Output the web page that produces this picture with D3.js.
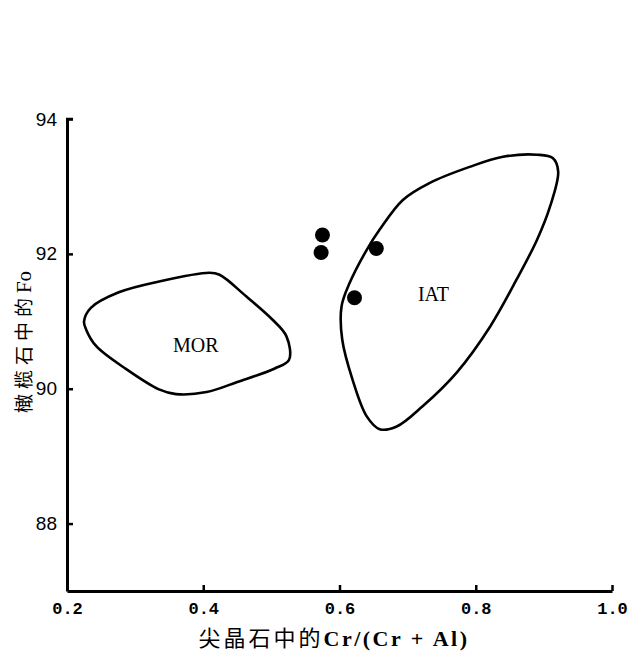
<!DOCTYPE html>
<html>
<meta charset="utf-8">
<head>
  <script src="https://d3js.org/d3.v7.min.js"></script>
  <style>
    body { margin: 0; background: #fff; }
    .axis path, .axis line { stroke: #000; }
  </style>
</head>
<body>
<div id="chart"></div>
<script>
  // x ticks, y ticks
  var xTicks = [0.2, 0.4, 0.6, 0.8, 1.0];
  var yTicks = [88, 90, 92, 94];

  // sample points: spinel Cr/(Cr+Al), olivine Fo
  var samples = [
    {x: 0.575, y: 92.28},
    {x: 0.573, y: 92.02},
    {x: 0.654, y: 92.08},
    {x: 0.622, y: 91.35}
  ];

  // MOR field outline
  var morField = [
    [0.225, 91.00], [0.235, 91.20], [0.276, 91.43], [0.335, 91.59],
    [0.409, 91.72], [0.424, 91.69], [0.463, 91.37], [0.501, 91.03],
    [0.522, 90.78], [0.526, 90.43], [0.505, 90.30], [0.450, 90.10],
    [0.405, 89.95], [0.360, 89.92], [0.335, 89.99], [0.287, 90.29],
    [0.243, 90.63], [0.228, 90.88]
  ];

  // IAT field outline
  var iatField = [
    [0.913, 93.42], [0.921, 93.22], [0.909, 92.70], [0.890, 92.21],
    [0.860, 91.62], [0.821, 90.92], [0.772, 90.24], [0.722, 89.74],
    [0.684, 89.44], [0.659, 89.40], [0.640, 89.59], [0.619, 90.14],
    [0.604, 90.73], [0.603, 91.22], [0.615, 91.57], [0.640, 92.06],
    [0.659, 92.36], [0.693, 92.80], [0.732, 93.05], [0.791, 93.29],
    [0.840, 93.44], [0.890, 93.47]
  ];

  var fieldLabels = [
    {name: "MOR", x: 0.389, y: 90.55},
    {name: "IAT", x: 0.738, y: 91.3}
  ];

  var svg = d3.select("#chart").append("svg")
      .attr("width", 632)
      .attr("height", 651);

  var x = d3.scaleLinear().domain([0.2, 1.0]).range([67, 612]);
  var y = d3.scaleLinear().domain([87, 94]).range([591, 119]);

  var line = d3.line()
      .x(function(d) { return x(d[0]); })
      .y(function(d) { return y(d[1]); })
      .curve(d3.curveCatmullRomClosed.alpha(0.5));

  svg.append("path")
      .attr("d", line(morField))
      .attr("fill", "none")
      .attr("stroke", "#000")
      .attr("stroke-width", 2.6);

  svg.append("path")
      .attr("d", line(iatField))
      .attr("fill", "none")
      .attr("stroke", "#000")
      .attr("stroke-width", 2.6);

  svg.selectAll(".field-label")
      .data(fieldLabels)
      .enter().append("text")
      .attr("class", "field-label")
      .attr("x", function(d) { return x(d.x); })
      .attr("y", function(d) { return y(d.y); })
      .attr("text-anchor", "middle")
      .attr("font-family", "Liberation Serif")
      .attr("font-size", 20)
      .text(function(d) { return d.name; });

  svg.selectAll(".dot")
      .data(samples)
      .enter().append("circle")
      .attr("class", "dot")
      .attr("cx", function(d) { return x(d.x); })
      .attr("cy", function(d) { return y(d.y); })
      .attr("r", 7.5)
      .attr("fill", "#000");

  var yAxis = svg.append("g")
      .attr("class", "axis")
      .attr("transform", "translate(67,0)")
      .call(d3.axisLeft(y).tickValues(yTicks).tickSizeInner(-6).tickSizeOuter(0).tickPadding(10)
        .tickFormat(d3.format("d")));

  yAxis.select(".domain").attr("stroke-width", 3);
  yAxis.selectAll(".tick line").attr("stroke-width", 2.5);
  yAxis.selectAll(".tick text")
      .attr("font-family", "Liberation Sans")
      .attr("font-size", 19)
      .attr("fill", "#000");

  var xAxis = svg.append("g")
      .attr("class", "axis")
      .attr("transform", "translate(0,591)")
      .call(d3.axisBottom(x).tickValues(xTicks).tickSizeInner(-6).tickSizeOuter(0).tickPadding(11)
        .tickFormat(d3.format(".1f")));

  xAxis.select(".domain").attr("stroke-width", 3);
  xAxis.selectAll(".tick line").attr("stroke-width", 2.5);
  xAxis.selectAll(".tick text")
      .attr("font-family", "Liberation Mono")
      .attr("font-weight", "bold")
      .attr("font-size", 17)
      .attr("fill", "#000");

  // end cap at top of y axis
  svg.append("line")
      .attr("x1", 66).attr("x2", 73)
      .attr("y1", y(94)).attr("y2", y(94))
      .attr("stroke", "#000").attr("stroke-width", 2.5);

  svg.append("text")
      .attr("x", 334)
      .attr("y", 646)
      .attr("text-anchor", "middle")
      .attr("font-size", 22)
      .html('<tspan font-family="Noto Sans CJK SC" letter-spacing="3">尖晶石中的</tspan><tspan font-family="Liberation Serif" font-weight="bold" letter-spacing="2.5">Cr/(Cr + Al)</tspan>');

  svg.append("text")
      .attr("transform", "translate(31,342) rotate(-90)")
      .attr("text-anchor", "middle")
      .attr("font-size", 19)
      .html('<tspan font-family="Noto Sans CJK SC" letter-spacing="5">橄榄石中的</tspan><tspan font-family="Liberation Serif" font-size="21">Fo</tspan>');
</script>
</body>
</html>
